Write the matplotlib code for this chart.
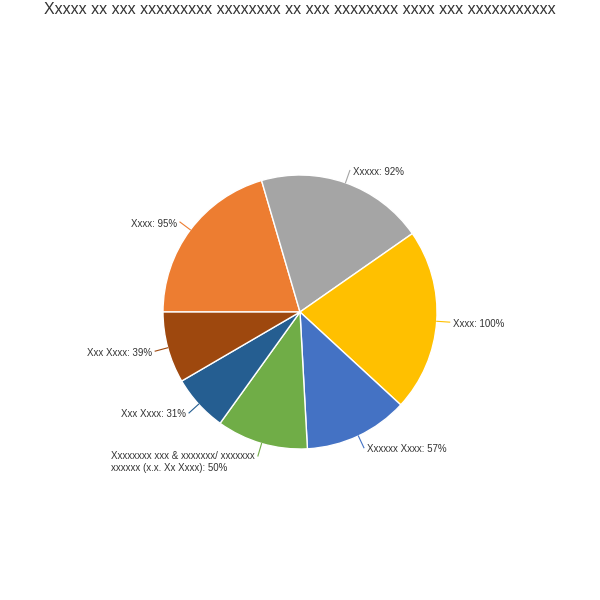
import numpy as np
import matplotlib.pyplot as plt

plt.rcParams['font.family'] = ['Liberation Sans', 'DejaVu Sans']

# data, in clockwise order starting at 9 o'clock
labels = ['Xxxx', 'Xxxxx', 'Xxxx', 'Xxxxxx Xxxx',
          'Xxxxxxxx xxx & xxxxxxx/ xxxxxxx\nxxxxxx (x.x. Xx Xxxx)',
          'Xxx Xxxx', 'Xxx Xxxx']
values = [95, 92, 100, 57, 50, 31, 39]
colors = ['#ED7D31', '#A5A5A5', '#FFC000', '#4472C4', '#70AD47', '#255E91', '#9E480E']

title = 'Xxxxx xx xxx xxxxxxxxx xxxxxxxx xx xxx xxxxxxxx xxxx xxx xxxxxxxxxxx'

fig = plt.figure(figsize=(6, 6), dpi=100)
ax = fig.add_axes([0, 0, 1, 1])

cx, cy, r = 300, 288, 137
start = 180
ax.pie(values, colors=colors, startangle=start, counterclock=False,
       center=(cx, cy), radius=r, frame=True,
       wedgeprops=dict(edgecolor='white', linewidth=1))
ax.set_xlim(0, 600)
ax.set_ylim(0, 600)
ax.set_aspect('equal')
ax.axis('off')

total = float(sum(values))
cum = 0.0
for lab, v, c in zip(labels, values, colors):
    mid = start - (cum + v / 2) / total * 360
    cum += v
    t = np.deg2rad(mid)
    x0, y0 = cx + r * np.cos(t), cy + r * np.sin(t)
    x1, y1 = cx + (r + 13) * np.cos(t), cy + (r + 13) * np.sin(t)
    ax.plot([x0, x1], [y0, y1], color=c, lw=0.8)
    right = np.cos(t) >= 0
    ha = 'left' if right else 'right'
    tx = x1 + (3 if right else -3)
    txt = '%s: %d%%' % (lab, v)
    if '\n' in lab:
        ax.text(tx, y1 + 5, txt, ha=ha, va='top', fontsize=7, color='#333333',
                multialignment='left', linespacing=1.25)
    else:
        ax.text(tx, y1 - 1.5, txt, ha=ha, va='center', fontsize=7, color='#333333')

fig.text(0.5, 1 - 9 / 600, title, ha='center', va='center', fontsize=11.5,
         color='#333333')

fig.savefig('out.png', dpi=100)
